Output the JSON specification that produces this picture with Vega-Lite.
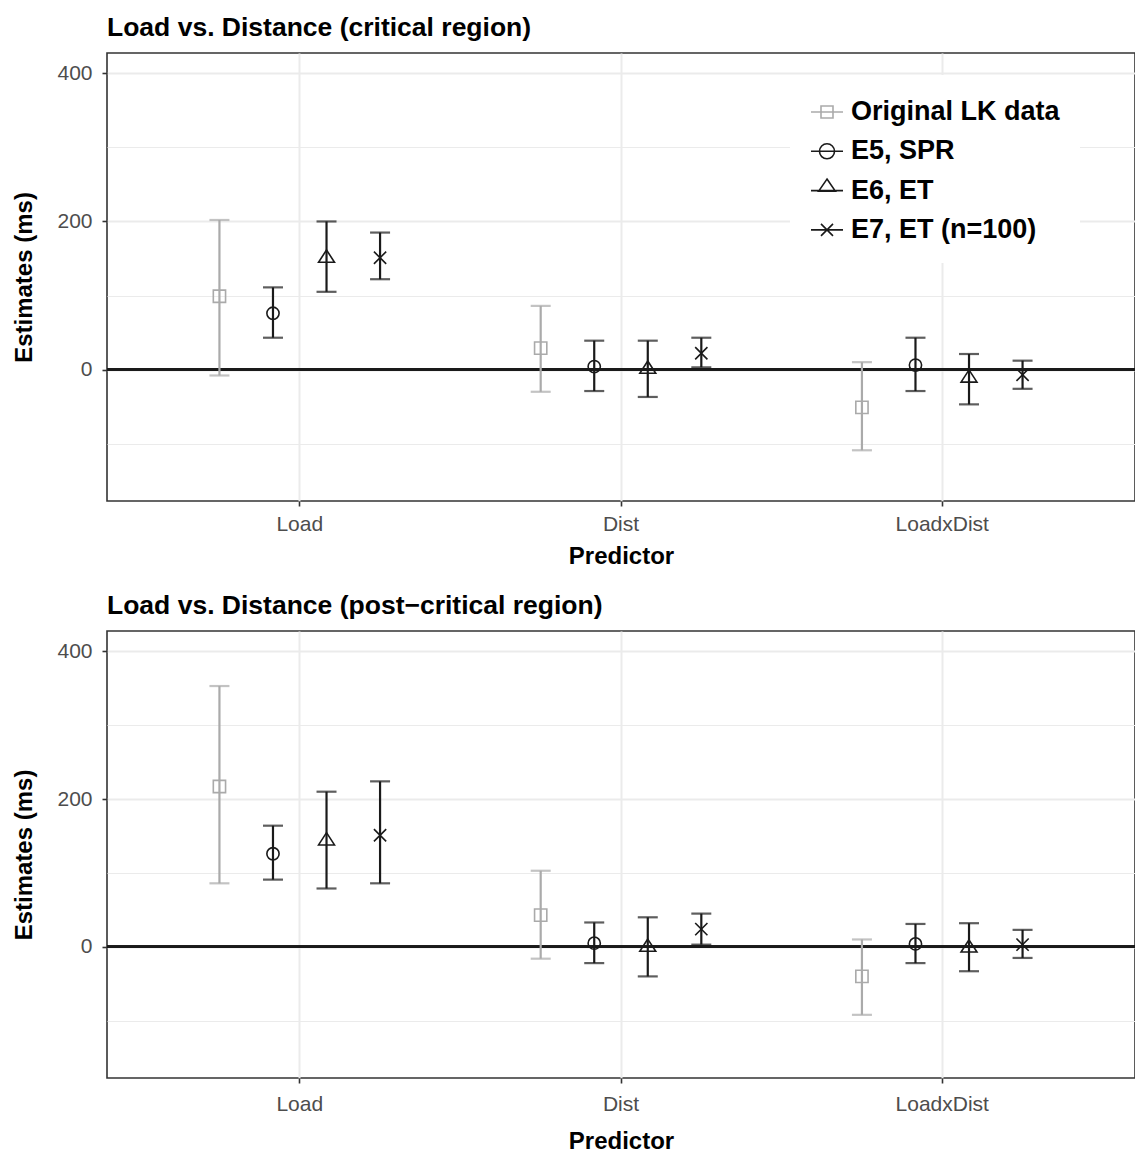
{
  "$schema": "https://vega.github.io/schema/vega-lite/v6.json",
  "padding": {"left": 12, "top": 13, "right": 0, "bottom": 0},
  "background": "white",
  "config": {
    "font": "Liberation Sans",
    "view": {"stroke": "#333333", "strokeWidth": 1.6},
    "title": {"anchor": "start", "frame": "group", "fontSize": 26.5, "fontWeight": "bold", "color": "#000000", "offset": 12},
    "axis": {"labelFontSize": 21, "labelColor": "#4d4d4d", "titleFontSize": 24, "titleFontWeight": "bold", "titleColor": "#000000", "domain": false, "tickColor": "#333333", "tickWidth": 1.6, "tickSize": 5, "gridColor": "#ebebeb"}
  },
  "resolve": {"legend": {"color": "independent", "shape": "independent"}},
  "datasets": {
    "est": [
      {"panel": "critical", "predictor": "Load", "source": "Original LK data", "est": 99, "lo": -8, "hi": 202},
      {"panel": "critical", "predictor": "Load", "source": "E5, SPR", "est": 76, "lo": 43, "hi": 111},
      {"panel": "critical", "predictor": "Load", "source": "E6, ET", "est": 152, "lo": 105, "hi": 200},
      {"panel": "critical", "predictor": "Load", "source": "E7, ET (n=100)", "est": 151, "lo": 122, "hi": 185},
      {"panel": "critical", "predictor": "Dist", "source": "Original LK data", "est": 29, "lo": -30, "hi": 86},
      {"panel": "critical", "predictor": "Dist", "source": "E5, SPR", "est": 4, "lo": -29, "hi": 39},
      {"panel": "critical", "predictor": "Dist", "source": "E6, ET", "est": 2, "lo": -37, "hi": 39},
      {"panel": "critical", "predictor": "Dist", "source": "E7, ET (n=100)", "est": 22, "lo": 3, "hi": 43},
      {"panel": "critical", "predictor": "LoadxDist", "source": "Original LK data", "est": -51, "lo": -109, "hi": 10},
      {"panel": "critical", "predictor": "LoadxDist", "source": "E5, SPR", "est": 6, "lo": -29, "hi": 43},
      {"panel": "critical", "predictor": "LoadxDist", "source": "E6, ET", "est": -10, "lo": -47, "hi": 21},
      {"panel": "critical", "predictor": "LoadxDist", "source": "E7, ET (n=100)", "est": -7, "lo": -26, "hi": 12},
      {"panel": "post", "predictor": "Load", "source": "Original LK data", "est": 217, "lo": 86, "hi": 353},
      {"panel": "post", "predictor": "Load", "source": "E5, SPR", "est": 126, "lo": 91, "hi": 164},
      {"panel": "post", "predictor": "Load", "source": "E6, ET", "est": 145, "lo": 79, "hi": 210},
      {"panel": "post", "predictor": "Load", "source": "E7, ET (n=100)", "est": 151, "lo": 86, "hi": 224},
      {"panel": "post", "predictor": "Dist", "source": "Original LK data", "est": 43, "lo": -16, "hi": 103},
      {"panel": "post", "predictor": "Dist", "source": "E5, SPR", "est": 5, "lo": -22, "hi": 33},
      {"panel": "post", "predictor": "Dist", "source": "E6, ET", "est": 1, "lo": -40, "hi": 40},
      {"panel": "post", "predictor": "Dist", "source": "E7, ET (n=100)", "est": 24, "lo": 3, "hi": 45},
      {"panel": "post", "predictor": "LoadxDist", "source": "Original LK data", "est": -40, "lo": -92, "hi": 10},
      {"panel": "post", "predictor": "LoadxDist", "source": "E5, SPR", "est": 4, "lo": -22, "hi": 31},
      {"panel": "post", "predictor": "LoadxDist", "source": "E6, ET", "est": 0, "lo": -33, "hi": 32},
      {"panel": "post", "predictor": "LoadxDist", "source": "E7, ET (n=100)", "est": 3, "lo": -15, "hi": 23}
    ]
  },
  "spacing": 22,
  "vconcat": [
    {
      "title": "Load vs. Distance (critical region)",
      "width": 1028,
      "height": 448,
      "data": {"name": "est"},
      "transform": [{"filter": "datum.panel === 'critical'"}],
      "encoding": {
        "x": {"field": "predictor", "type": "nominal", "sort": ["Load", "Dist", "LoadxDist"], "title": "Predictor",
              "scale": {"paddingInner": 0, "paddingOuter": 0.1},
              "axis": {"labelAngle": 0, "grid": true, "gridWidth": 2, "labelPadding": 7, "titlePadding": 10}},
        "xOffset": {"field": "source", "type": "nominal", "sort": ["Original LK data", "E5, SPR", "E6, ET", "E7, ET (n=100)"],
                    "scale": {"paddingInner": 0, "paddingOuter": 1.344}},
        "color": {"field": "source", "type": "nominal",
                  "scale": {"domain": ["Original LK data", "E5, SPR", "E6, ET", "E7, ET (n=100)"], "range": ["#aaaaaa", "#1a1a1a", "#1a1a1a", "#1a1a1a"]},
                  "legend": {"orient": "none", "legendX": 683, "legendY": 22, "fillColor": "white", "padding": 20,
                             "labelFontSize": 27, "labelFontWeight": "bold", "labelColor": "#000000", "labelLimit": 400,
                             "symbolSize": 1024, "symbolStrokeWidth": 1.6, "labelOffset": 7, "rowPadding": 9.3, "title": null,
                             "encode": {"symbols": {"update": {
                               "fillOpacity": {"value": 0},
                               "stroke": {"scale": "color", "field": "value"},
                               "strokeWidth": {"value": 1.6},
                               "shape": {"signal": "datum.value === 'Original LK data' ? 'M-1,0L1,0M-0.375,-0.375L0.375,-0.375L0.375,0.375L-0.375,0.375Z' : datum.value === 'E5, SPR' ? 'M-1,0L1,0M-0.47,0A0.47,0.47 0 1,1 0.47,0A0.47,0.47 0 1,1 -0.47,0' : datum.value === 'E6, ET' ? 'M-1,0L1,0M0,-0.72L0.52,0.03L-0.52,0.03Z' : 'M-1,0L1,0M-0.375,-0.375L0.375,0.375M-0.375,0.375L0.375,-0.375'"}
                             }}}}}
      },
      "layer": [
        {"mark": {"type": "rule", "color": "#1a1a1a", "strokeWidth": 2},
         "encoding": {"x": null, "xOffset": null, "color": null, "y": {"datum": 0, "type": "quantitative"}}},
        {"mark": {"type": "rule", "strokeWidth": 2.2},
         "encoding": {
           "y": {"field": "lo", "type": "quantitative", "title": "Estimates (ms)",
                 "scale": {"domain": [-177.5, 427.5], "nice": false, "zero": false},
                 "axis": {"values": [-100, 0, 100, 200, 300, 400], "labelExpr": "datum.value % 200 === 0 ? datum.label : ''",
                          "grid": true, "gridWidth": {"condition": {"test": "datum.value % 200 === 0", "value": 2}, "value": 1},
                          "tickOpacity": {"condition": {"test": "datum.value % 200 === 0", "value": 1}, "value": 0},
                          "labelPadding": 10, "titlePadding": 20}},
           "y2": {"field": "hi"}
         }},
        {"mark": {"type": "tick", "size": 20, "thickness": 2.2},
         "encoding": {"y": {"field": "lo", "type": "quantitative"}}},
        {"mark": {"type": "tick", "size": 20, "thickness": 2.2},
         "encoding": {"y": {"field": "hi", "type": "quantitative"}}},
        {"mark": {"type": "point", "filled": false, "size": 150, "strokeWidth": 1.6, "opacity": 1},
         "encoding": {
           "y": {"field": "est", "type": "quantitative"},
           "shape": {"field": "source", "type": "nominal", "legend": null,
                     "scale": {"domain": ["E5, SPR", "Original LK data", "E6, ET", "E7, ET (n=100)"], "range": ["circle", "square", "M0,-1.15L1.3,0.85L-1.3,0.85Z", "M-1,-1L1,1M-1,1L1,-1"]}}
         }}
      ]
    },
    {
      "title": "Load vs. Distance (post\u2212critical region)",
      "width": 1028,
      "height": 447,
      "data": {"name": "est"},
      "transform": [{"filter": "datum.panel === 'post'"}],
      "encoding": {
        "x": {"field": "predictor", "type": "nominal", "sort": ["Load", "Dist", "LoadxDist"], "title": "Predictor",
              "scale": {"paddingInner": 0, "paddingOuter": 0.1},
              "axis": {"labelAngle": 0, "grid": true, "gridWidth": 2, "labelPadding": 10, "titlePadding": 15}},
        "xOffset": {"field": "source", "type": "nominal", "sort": ["Original LK data", "E5, SPR", "E6, ET", "E7, ET (n=100)"],
                    "scale": {"paddingInner": 0, "paddingOuter": 1.344}},
        "color": {"field": "source", "type": "nominal",
                  "scale": {"domain": ["Original LK data", "E5, SPR", "E6, ET", "E7, ET (n=100)"], "range": ["#aaaaaa", "#1a1a1a", "#1a1a1a", "#1a1a1a"]},
                  "legend": null}
      },
      "layer": [
        {"mark": {"type": "rule", "color": "#1a1a1a", "strokeWidth": 2},
         "encoding": {"x": null, "xOffset": null, "color": null, "y": {"datum": 0, "type": "quantitative"}}},
        {"mark": {"type": "rule", "strokeWidth": 2.2},
         "encoding": {
           "y": {"field": "lo", "type": "quantitative", "title": "Estimates (ms)",
                 "scale": {"domain": [-177.5, 427.5], "nice": false, "zero": false},
                 "axis": {"values": [-100, 0, 100, 200, 300, 400], "labelExpr": "datum.value % 200 === 0 ? datum.label : ''",
                          "grid": true, "gridWidth": {"condition": {"test": "datum.value % 200 === 0", "value": 2}, "value": 1},
                          "tickOpacity": {"condition": {"test": "datum.value % 200 === 0", "value": 1}, "value": 0},
                          "labelPadding": 10, "titlePadding": 20}},
           "y2": {"field": "hi"}
         }},
        {"mark": {"type": "tick", "size": 20, "thickness": 2.2},
         "encoding": {"y": {"field": "lo", "type": "quantitative"}}},
        {"mark": {"type": "tick", "size": 20, "thickness": 2.2},
         "encoding": {"y": {"field": "hi", "type": "quantitative"}}},
        {"mark": {"type": "point", "filled": false, "size": 150, "strokeWidth": 1.6, "opacity": 1},
         "encoding": {
           "y": {"field": "est", "type": "quantitative"},
           "shape": {"field": "source", "type": "nominal", "legend": null,
                     "scale": {"domain": ["E5, SPR", "Original LK data", "E6, ET", "E7, ET (n=100)"], "range": ["circle", "square", "M0,-1.15L1.3,0.85L-1.3,0.85Z", "M-1,-1L1,1M-1,1L1,-1"]}}
         }}
      ]
    }
  ]
}
